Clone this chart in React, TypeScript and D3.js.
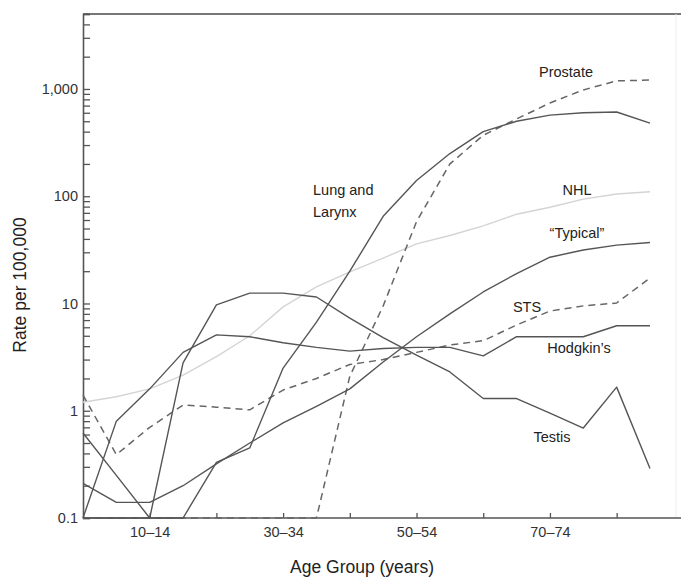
import { useEffect, useRef } from 'react'
import * as d3 from 'd3'

// age groups, 0-4 through 85+
const ageGroups = [
  '0–4', '5–9', '10–14', '15–19', '20–24', '25–29', '30–34', '35–39', '40–44',
  '45–49', '50–54', '55–59', '60–64', '65–69', '70–74', '75–79', '80–84', '85+',
]

// rates per 100,000 (0 = no cases, drawn on the 0.1 baseline)
const prostate = [0, 0, 0, 0, 0, 0, 0, 0, 2.1, 9.5, 58, 200, 370, 525, 740, 980, 1190, 1210]
const lungLarynx = [0, 0, 0, 0, 0.33, 0.45, 2.5, 6.7, 20, 65, 140, 250, 400, 500, 570, 600, 610, 480]
const nhl = [1.2, 1.35, 1.6, 2.15, 3.2, 5.0, 9.3, 14.3, 19.7, 26.5, 36, 43, 53, 68, 79, 94, 105, 110]
const typical = [0.21, 0.14, 0.14, 0.2, 0.32, 0.5, 0.77, 1.1, 1.6, 2.85, 4.9, 8, 12.8, 19, 27, 31.5, 35, 37]
const sts = [1.4, 0.39, 0.7, 1.13, 1.08, 1.02, 1.56, 2.0, 2.7, 3.0, 3.5, 4.1, 4.5, 6.3, 8.5, 9.5, 10.1, 17.3]
const hodgkins = [0, 0.8, 1.6, 3.5, 5.1, 4.9, 4.3, 3.9, 3.6, 3.8, 3.9, 3.9, 3.25, 4.9, 4.9, 4.9, 6.2, 6.2]
const testis = [0.62, 0.25, 0, 2.8, 9.7, 12.5, 12.5, 11.5, 7.3, 4.8, 3.3, 2.3, 1.3, 1.3, 0.95, 0.69, 1.66, 0.29]

const labeledTicks = ['10–14', '30–34', '50–54', '70–74']
const yMajorTicks = [0.1, 1, 10, 100, 1000]

const FONT = '"Liberation Sans", Arial, Helvetica, sans-serif'

export default function App() {
  const svgRef = useRef<SVGSVGElement>(null)

  useEffect(() => {
    if (!svgRef.current) return
    const width = 681
    const height = 580
    d3.select(svgRef.current).selectAll('*').remove()

    const svg = d3.select(svgRef.current)
      .attr('width', width)
      .attr('height', height)
      .style('font-family', FONT)

    const left = 83
    const top = 14
    const bottom = 518
    const right = 676

    const x = d3.scaleLinear().domain([0, ageGroups.length - 1]).range([left, 650])
    const y = d3.scaleLog().domain([0.1, 5000]).range([bottom, top])

    // frame: top line, faint right side
    svg.append('line')
      .attr('x1', left).attr('x2', width).attr('y1', top).attr('y2', top)
      .attr('stroke', '#777').attr('stroke-width', 2)
    svg.append('line')
      .attr('x1', right).attr('x2', right).attr('y1', top).attr('y2', bottom)
      .attr('stroke', '#eee').attr('stroke-width', 1)

    // y axis with inner ticks (every 1..9 per decade)
    const yTicks: number[] = []
    for (let d = -1; d <= 3; d++) {
      for (let k = 1; k <= 9; k++) {
        const v = k * Math.pow(10, d)
        if (v <= 5000) yTicks.push(+v.toPrecision(3))
      }
    }
    const yAxis = d3.axisLeft(y)
      .tickValues(yTicks)
      .tickSize(-7)
      .tickPadding(5)
      .tickFormat(d => {
        const v = +d
        if (!yMajorTicks.some(m => Math.abs(m - v) < 1e-9)) return ''
        return v < 1 ? '0.1' : d3.format(',')(v)
      })

    const gy = svg.append('g')
      .attr('transform', `translate(${left},0)`)
      .call(yAxis)
    gy.select('.domain').attr('stroke', '#555').attr('stroke-width', 1.6)
    gy.selectAll('.tick line').attr('stroke', '#555').attr('stroke-width', 1.3)
    gy.selectAll('.tick text')
      .attr('fill', '#333')
      .style('font-size', '14.5px')
      .style('font-family', FONT)

    // x axis
    const xAxis = d3.axisBottom(x)
      .tickValues(d3.range(2, 17, 2))
      .tickSize(-5)
      .tickPadding(9)
      .tickFormat(d => {
        const lab = ageGroups[+d]
        return labeledTicks.includes(lab) ? lab : ''
      })

    const gx = svg.append('g')
      .attr('transform', `translate(0,${bottom})`)
      .call(xAxis)
    gx.select('.domain').attr('d', `M${left},0H${width}`).attr('stroke', '#555').attr('stroke-width', 1.6)
    gx.selectAll('.tick line').attr('stroke', '#555').attr('stroke-width', 1.3)
    gx.selectAll('.tick text')
      .attr('fill', '#333')
      .style('font-size', '14.5px')
      .style('font-family', FONT)

    // axis titles
    svg.append('text')
      .attr('x', 362).attr('y', 573)
      .attr('text-anchor', 'middle')
      .attr('fill', '#222')
      .style('font-size', '17.5px')
      .text('Age Group (years)')

    svg.append('text')
      .attr('transform', `translate(26,${285}) rotate(-90)`)
      .attr('text-anchor', 'middle')
      .attr('fill', '#222')
      .style('font-size', '17.5px')
      .text('Rate per 100,000')

    // series lines
    const series = [
      { values: nhl, color: '#d4d4d4', dash: null, width: 1.4 },
      { values: prostate, color: '#666', dash: '7,5', width: 1.5 },
      { values: sts, color: '#666', dash: '7,5', width: 1.5 },
      { values: lungLarynx, color: '#555', dash: null, width: 1.4 },
      { values: typical, color: '#555', dash: null, width: 1.4 },
      { values: hodgkins, color: '#555', dash: null, width: 1.4 },
      { values: testis, color: '#555', dash: null, width: 1.4 },
    ]

    const line = d3.line<number>()
      .x((_, i) => x(i))
      .y(v => y(Math.max(v, 0.1)))

    series.forEach(s => {
      const p = svg.append('path')
        .datum(s.values)
        .attr('fill', 'none')
        .attr('stroke', s.color)
        .attr('stroke-width', s.width)
        .attr('stroke-linejoin', 'round')
        .attr('d', line)
      if (s.dash) p.attr('stroke-dasharray', s.dash)
    })

    // series labels
    const labels = [
      { text: 'Prostate', x: 566, y: 77, anchor: 'middle' },
      { text: 'NHL', x: 577, y: 195, anchor: 'middle' },
      { text: '“Typical”', x: 577, y: 238, anchor: 'middle' },
      { text: 'STS', x: 527, y: 312, anchor: 'middle' },
      { text: 'Hodgkin’s', x: 579, y: 353, anchor: 'middle' },
      { text: 'Testis', x: 552, y: 442, anchor: 'middle' },
      { text: 'Lung and', x: 313, y: 195, anchor: 'start' },
      { text: 'Larynx', x: 313, y: 217, anchor: 'start' },
    ]
    svg.selectAll('.series-label')
      .data(labels)
      .enter().append('text')
      .attr('class', 'series-label')
      .attr('x', d => d.x)
      .attr('y', d => d.y)
      .attr('text-anchor', d => d.anchor)
      .attr('fill', '#222')
      .style('font-size', '14.5px')
      .text(d => d.text)
  }, [])

  return (
    <svg ref={svgRef} style={{ position: 'absolute', left: 0, top: 0, background: '#fff' }} />
  )
}
